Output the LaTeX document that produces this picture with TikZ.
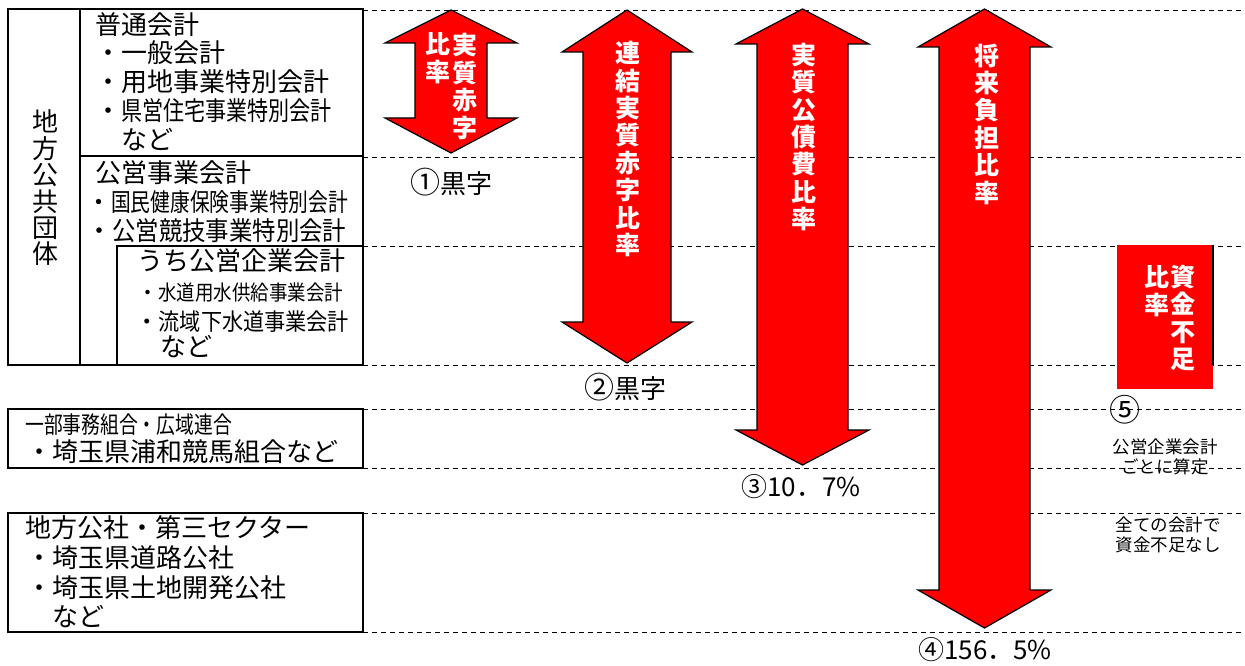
\documentclass[tikz,border=0pt]{standalone}
\usepackage{fontspec}
\usepackage{graphicx}
\setmainfont{Noto Sans CJK JP}
\tikzset{
  box/.style={draw=black, line width=1.5pt},
  guide/.style={draw=black, line width=0.9pt, dash pattern=on 5pt off 4pt},
  redarrow/.style={fill=red, draw=black, line width=1.2pt, line join=miter},
  entry/.style={anchor=west, inner sep=0pt, font=\fontsize{26}{28}\selectfont},
  vlabel/.style={text=white, align=center, inner sep=0pt, font=\bfseries\fontsize{25}{27.4}\selectfont},
  result/.style={inner sep=0pt, font=\fontsize{26}{28}\selectfont},
  note/.style={inner sep=0pt, font=\fontsize{17.5}{20}\selectfont},
}
\begin{document}
\begin{tikzpicture}[x=1pt, y=-1pt]
  \useasboundingbox (0,0) rectangle (1245,666);

  % dashed guide lines
  \draw[guide] (363,10) -- (1245,10); \draw[guide] (363,157) -- (1245,157);
  \draw[guide] (363,246) -- (1245,246); \draw[guide] (363,365) -- (1245,365);
  \draw[guide] (363,409) -- (1245,409); \draw[guide] (363,468) -- (1245,468);
  \draw[guide] (363,513) -- (1245,513); \draw[guide] (363,632) -- (1245,632);

  % left boxes
  \draw[box] (8,9) rectangle (363,365);
  \draw[box] (80,9) -- (80,365); \draw[box] (80,156) -- (363,156);
  \draw[box] (117,246) rectangle (363,365);
  \draw[box] (8,409) rectangle (363,468);
  \draw[box] (8,513) rectangle (363,632);

  \node[inner sep=0pt, align=center, font=\fontsize{26}{26.4}\selectfont] (chiho) at (45,188) {地\\方\\公\\共\\団\\体};

  \node[entry] (futsu) at (95,25) {普通会計};
  \node[entry] (ippan) at (95,53) {・一般会計};
  \node[entry] (yochi) at (95,82) {・用地事業特別会計};
  \node[entry] (kenei) at (95,111) {・\scalebox{0.81}[1]{県営住宅事業特別会計}};
  \node[entry] (nado1) at (95,140) {　など};
  \node[entry] (koei) at (95,173) {公営事業会計};
  \node[entry, font=\fontsize{25}{27}\selectfont] (kokumin) at (86,202) {・\scalebox{0.79}[1]{国民健康保険事業特別会計}};
  \node[entry] (kyogi) at (86,231) {・\scalebox{0.9}[1]{公営競技事業特別会計}};
  \node[entry] (kigyo) at (137,261) {うち公営企業会計};
  \node[entry, font=\fontsize{21}{23}\selectfont] (suido) at (137,293) {・\scalebox{0.88}[1]{水道用水供給事業会計}};
  \node[entry, font=\fontsize{23.5}{25}\selectfont] (ryuiki) at (135,322) {・\scalebox{0.9}[1]{流域下水道事業会計}};
  \node[entry] (nado2) at (160,347) {など};

  \node[entry, font=\fontsize{23.5}{25}\selectfont] (ichibu) at (25,425) {\scalebox{0.8}[1]{一部事務組合・広域連合}};
  \node[entry] (urawa) at (26,452) {・埼玉県浦和競馬組合など};

  \node[entry] (kosha) at (25,528) {地方公社・第三セクター};
  \node[entry] (doro) at (26,558) {・埼玉県道路公社};
  \node[entry] (tochi) at (26,588) {・埼玉県土地開発公社};
  \node[entry] (nado3) at (26,617) {　など};

  % ratio arrows
  \draw[redarrow] (451,10) -- (517,43) -- (487,43) -- (487,118) -- (517,118) -- (451,153)
    -- (385,118) -- (415,118) -- (415,43) -- (385,43) -- cycle;
  \draw[redarrow] (627,10) -- (692,52) -- (671,52) -- (671,322) -- (692,322) -- (627,363)
    -- (562,322) -- (583,322) -- (583,52) -- (562,52) -- cycle;
  \draw[redarrow] (802.5,9) -- (869,44) -- (848,44) -- (848,430) -- (869,430) -- (802.5,465)
    -- (736,430) -- (757,430) -- (757,44) -- (736,44) -- cycle;
  \draw[redarrow] (984.5,9) -- (1051,47) -- (1030,47) -- (1030,590) -- (1051,590) -- (984.5,628)
    -- (918,590) -- (939,590) -- (939,47) -- (918,47) -- cycle;

  % shortfall box
  \fill[red] (1117,245) rectangle (1213,389);
  \draw[line width=1.5pt] (1213,245) -- (1213,365);

  \node[vlabel] (jissitsu) at (465,86.5) {実\\質\\赤\\字};
  \node[vlabel] (hiritsu1) at (438,58) {比\\率};
  \node[vlabel] (renketsu) at (628,149) {連\\結\\実\\質\\赤\\字\\比\\率};
  \node[vlabel] (kosai) at (804,137) {実\\質\\公\\債\\費\\比\\率};
  \node[vlabel] (shorai) at (987,124) {将\\来\\負\\担\\比\\率};
  \node[vlabel] (shikin) at (1183,318) {資\\金\\不\\足};
  \node[vlabel] (hiritsu5) at (1157,291) {比\\率};

  % results
  \node[result] (res1) at (451,182) {{\fontsize{30}{30}\selectfont ①}黒字};
  \node[result] (res2) at (625,387) {{\fontsize{30}{30}\selectfont ②}黒字};
  \node[result] (res3) at (801,487) {③10．7\%};
  \node[result] (res4) at (985,650) {④156．5\%};
  \node[result, font=\fontsize{31}{31}\selectfont] (res5) at (1125,410) {⑤};
  \node[note, align=center] (sante) at (1165,456.5) {公営企業会計\\ごとに算定};
  \node[note, align=center] (nashi) at (1168,535) {全ての会計で\\資金不足なし};
\end{tikzpicture}
\end{document}
